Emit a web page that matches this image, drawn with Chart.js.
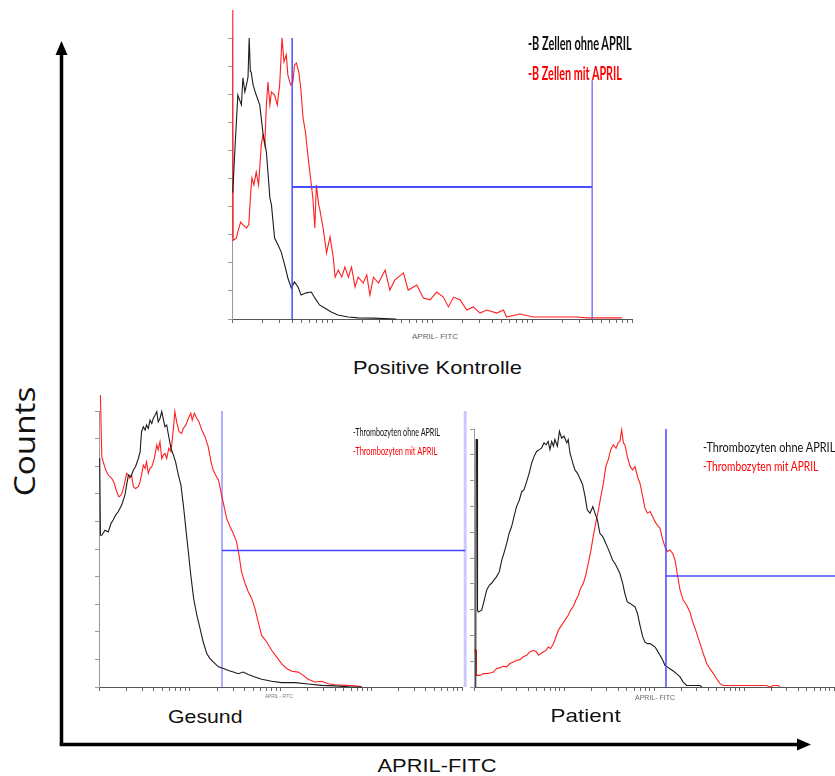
<!DOCTYPE html>
<html>
<head>
<meta charset="utf-8">
<title>APRIL-FITC Histogramme</title>
<script src="https://cdn.jsdelivr.net/npm/chart.js@4.4.1/dist/chart.umd.min.js"></script>
<style>
    body { margin: 0; width: 835px; height: 776px; position: relative; overflow: hidden; background: #fff; }
    canvas { position: absolute; }
    .label { position: absolute; white-space: nowrap; line-height: 1; }
</style>
</head>
<body>

<!-- outer axes with arrow heads -->
<svg width="835" height="776" style="position:absolute;left:0;top:0">
    <line x1="61.5" y1="52" x2="61.5" y2="746" stroke="#000" stroke-width="3.5"/>
    <polygon points="61.5,41 55.5,55 67.5,55" fill="#000"/>
    <line x1="59.8" y1="744.5" x2="800" y2="744.5" stroke="#000" stroke-width="3.5"/>
    <polygon points="811,744.5 797,738.5 797,750.5" fill="#000"/>
</svg>

<canvas id="kontrolle" width="420" height="330" style="left:220px;top:0px"></canvas>
<canvas id="gesund" width="385" height="310" style="left:88px;top:390px"></canvas>
<canvas id="patient" width="371" height="285" style="left:464px;top:415px"></canvas>

<script>
// Positive Kontrolle: B-Zellen (channel 0-1024 over 4 log decades, counts scaled to 100)
const kontrolleOhneKanal = [2, 8, 15, 24, 28, 33, 37, 41, 44, 47, 49, 54, 62, 71, 79, 88, 92, 97, 101, 109, 118, 126, 135, 143, 152, 160, 169, 177, 190, 203, 212, 224, 237, 254, 271, 297, 323, 360, 420];
const kontrolleOhneCounts = [45, 61.9, 79.7, 76.2, 85.8, 80.8, 83.3, 86.1, 100, 88, 87.9, 83.3, 79.7, 76.2, 66.5, 59.4, 52.3, 43.1, 40.6, 28.8, 26.3, 23.8, 19.2, 14.6, 11.0, 13.2, 11.4, 8.5, 9.3, 9.6, 7.5, 5.0, 3.9, 2.5, 1.4, 0.7, 0.4, 0.3, 0];

const kontrolleMitKanal = [1, 2, 3, 11, 15, 22, 28, 37, 43, 48, 51, 56, 62, 68, 75, 79, 84, 88, 92, 97, 101, 109, 116, 122, 128, 133, 139, 143, 150, 156, 160, 165, 171, 176, 182, 188, 195, 201, 207, 212, 216, 222, 225, 234, 242, 251, 259, 264, 272, 281, 289, 298, 306, 315, 323, 336, 345, 353, 362, 375, 392, 404, 417, 439, 451, 473, 490, 507, 524, 541, 554, 567, 584, 601, 618, 635, 652, 678, 695, 703, 737, 771, 823, 882, 908, 998];
const kontrolleMitCounts = [29, 110, 28, 28.8, 31.0, 34.5, 33.5, 32.4, 33.5, 45.2, 50.2, 47.7, 52.3, 47.7, 61.9, 65.5, 61.9, 76.2, 84.3, 76.2, 80.8, 79.7, 76.2, 83.3, 100, 91.5, 94.0, 86.8, 83.3, 84.3, 90.4, 91.1, 87.9, 82.2, 71.5, 66.5, 57.3, 50.2, 43.1, 32.4, 47.7, 40.6, 38.8, 31.7, 23.5, 29.2, 22.1, 14.9, 17.4, 14.9, 18.5, 14.9, 18.5, 11.4, 14.9, 12.8, 15.7, 8.5, 14.9, 12.8, 17.4, 10.3, 13.9, 16.4, 10.3, 12.1, 7.5, 6.8, 9.6, 7.8, 4.3, 7.8, 6.8, 3.2, 4.3, 2.1, 3.2, 2.1, 3.2, 0.7, 1.8, 0.7, 0.7, 0.7, 0.4, 0.4];

// Gesund: Thrombozyten
const gesundOhneKanal = [2, 4, 8, 17, 26, 34, 40, 47, 54, 64, 73, 78, 83, 90, 97, 103, 111, 116, 120, 125, 130, 134, 139, 144, 149, 153, 158, 163, 167, 172, 177, 181, 186, 191, 196, 203, 210, 216, 224, 231, 238, 245, 252, 259, 267, 276, 285, 294, 304, 313, 322, 337, 351, 365, 379, 393, 407, 421, 440, 459, 487, 515, 553, 590, 628, 666, 703, 741];
const gesundOhneCounts = [83, 55, 55, 56.8, 56.2, 59.3, 60.5, 62.3, 63.5, 65.9, 69.5, 73.2, 76.8, 76.2, 78.6, 79.8, 82.8, 85.2, 92.5, 94.3, 93.1, 94.9, 93.7, 96.7, 95.5, 97.3, 98.5, 99.8, 96.1, 97.3, 99.8, 97.3, 94.3, 94.9, 91.3, 86.5, 84.0, 81.6, 76.8, 73.2, 65.9, 57.4, 49.0, 40.5, 32.0, 26.0, 21.2, 16.3, 12.1, 10.3, 9.1, 7.3, 6.7, 6.0, 5.4, 4.8, 5.4, 4.5, 3.6, 2.8, 2.1, 1.6, 1.6, 1.1, 0.6, 0.4, 0.1, 0];

const gesundMitKanal = [4, 8, 12, 19, 26, 36, 43, 50, 56, 62, 66, 71, 78, 83, 87, 92, 97, 103, 111, 116, 120, 125, 130, 134, 139, 144, 149, 156, 163, 167, 172, 177, 181, 186, 191, 197, 203, 210, 214, 219, 226, 233, 238, 245, 252, 259, 263, 269, 276, 282, 290, 299, 308, 316, 322, 329, 337, 344, 351, 360, 370, 379, 388, 395, 402, 412, 421, 431, 440, 449, 459, 473, 487, 501, 515, 529, 544, 562, 576, 590, 609, 628, 647, 666, 694, 722, 741];
const gesundMitCounts = [105.8, 83.4, 81.6, 78.6, 76.8, 75.6, 73.8, 70.7, 68.9, 69.5, 70.7, 73.2, 77.4, 76.8, 75.6, 76.8, 72.6, 71.9, 72.6, 74.4, 76.8, 80.4, 79.2, 81.6, 77.4, 79.2, 79.8, 82.8, 87.7, 85.9, 88.9, 82.8, 84.0, 84.6, 82.8, 86.5, 85.2, 93.7, 99.8, 96.1, 92.5, 91.9, 93.7, 94.9, 97.3, 99.2, 96.7, 99.2, 97.3, 96.1, 93.1, 90.7, 87.1, 81.6, 78.6, 76.8, 75.0, 70.7, 66.5, 61.1, 58.0, 55.6, 52.6, 47.8, 41.7, 37.5, 34.5, 32.0, 28.4, 23.6, 18.7, 16.3, 13.3, 10.9, 8.5, 6.7, 5.7, 5.4, 4.2, 2.8, 1.8, 2.1, 1.2, 0.8, 0.6, 0.4, 0.2];

// Patient: Thrombozyten
const patientOhneKanal = [5, 6, 9, 10, 12, 22, 28, 36, 44, 50, 57, 64, 72, 79, 85, 93, 100, 107, 114, 121, 129, 136, 142, 150, 157, 164, 171, 178, 186, 192, 199, 205, 211, 216, 221, 226, 230, 237, 243, 249, 256, 264, 268, 273, 281, 287, 294, 301, 309, 316, 322, 330, 338, 344, 351, 358, 366, 373, 379, 387, 394, 401, 408, 415, 423, 429, 436, 444, 451, 458, 465, 472, 480, 486, 493, 501, 508, 515, 521, 529, 537, 543, 550, 557, 567, 576, 586, 595, 605, 624, 643, 648];
const patientOhneCounts = [0, 95.9, 95.9, 29.8, 29.1, 29.8, 33.0, 37.6, 39.5, 40.2, 41.5, 42.7, 44.7, 49.2, 51.8, 55.7, 59.6, 62.2, 66.1, 69.9, 72.5, 75.8, 76.4, 79.7, 82.9, 86.8, 89.4, 91.3, 92.0, 92.6, 94.6, 93.9, 95.2, 92.0, 95.2, 93.3, 95.9, 93.3, 99.1, 96.5, 97.2, 94.6, 95.9, 90.7, 86.8, 84.2, 82.9, 80.9, 78.4, 73.8, 68.7, 67.4, 69.9, 67.4, 64.8, 59.6, 58.3, 56.3, 54.4, 51.8, 49.2, 47.9, 46.0, 44.0, 40.2, 36.3, 33.0, 32.4, 31.7, 31.1, 28.5, 24.0, 19.4, 17.5, 16.8, 16.8, 16.2, 15.5, 14.2, 12.3, 10.4, 8.4, 7.8, 7.1, 6.2, 5.2, 3.9, 1.9, 0.6, 0.6, 0.6, 0];

const patientMitKanal = [0, 6, 7, 17, 27, 36, 46, 55, 64, 74, 83, 93, 102, 112, 121, 131, 140, 150, 159, 169, 178, 183, 190, 197, 205, 211, 218, 226, 233, 240, 246, 254, 262, 268, 275, 282, 290, 297, 303, 311, 318, 325, 332, 339, 347, 354, 360, 368, 375, 382, 389, 396, 404, 410, 415, 420, 425, 429, 436, 444, 451, 458, 465, 472, 480, 486, 493, 501, 508, 515, 521, 529, 537, 543, 550, 557, 565, 572, 578, 586, 595, 605, 614, 622, 629, 635, 643, 652, 662, 671, 681, 690, 700, 709, 747, 794, 832, 842, 851, 866, 870];
const patientMitCounts = [14.2, 14.2, 4.5, 4.5, 5.2, 5.2, 5.4, 5.8, 7.1, 7.5, 8.0, 7.8, 9.1, 9.7, 10.4, 10.6, 11.7, 12.3, 13.6, 14.2, 13.6, 12.3, 13.0, 13.6, 14.2, 15.5, 14.9, 16.8, 19.4, 22.0, 23.3, 24.9, 26.6, 27.8, 29.8, 31.1, 33.7, 35.6, 38.2, 40.2, 43.4, 47.9, 52.5, 58.3, 64.1, 68.7, 73.2, 79.0, 85.5, 88.1, 92.0, 93.9, 92.6, 94.6, 95.2, 99.7, 94.6, 93.9, 89.4, 85.5, 84.2, 85.5, 81.6, 79.0, 73.8, 69.4, 67.4, 68.0, 66.1, 64.1, 62.8, 61.5, 57.0, 54.4, 52.5, 53.1, 51.8, 49.2, 44.0, 37.6, 33.7, 31.7, 29.1, 25.3, 22.7, 20.1, 16.8, 13.0, 9.1, 7.1, 5.2, 3.2, 1.3, 0.6, 0.6, 0.6, 0.6, 0, 0.6, 0.6, 0];

// marker gates: channel of the vertical bars, count level of the horizontal bar
const kontrolleGateKanal = [154, 922];
const kontrolleGateCount = 47;
const gesundGateKanal = [347, 1033];
const gesundGateCount = 49.5;
const patientGateKanal = [546, 1030];
const patientGateCount = 43;

// log axis: minor ticks 1..9 in each of the 4 decades
const logTicks = [];
for (let d = 0; d < 4; d++) {
    for (let k = 1; k < 10; k++) logTicks.push(256 * (d + Math.log10(k)));
}
logTicks.push(1024);

const black = '#1c1c1c';
const red = '#ff1f1f';

function curve(kanal, counts, color) {
    return {
        data: kanal.map((x, i) => ({ x: x, y: counts[i] })),
        borderColor: color,
        borderWidth: 1.1,
        pointRadius: 0,
        clip: false
    };
}

function segment(x1, y1, x2, y2, color, width) {
    return {
        data: [{ x: x1, y: y1 }, { x: x2, y: y2 }],
        borderColor: color,
        borderWidth: width,
        pointRadius: 0,
        clip: false
    };
}

function histogram(id, padding, datasets) {
    return new Chart(document.getElementById(id), {
        type: 'line',
        data: { datasets: datasets },
        options: {
            responsive: false,
            animation: false,
            events: [],
            layout: { padding: padding },
            plugins: { legend: { display: false }, tooltip: { enabled: false } },
            scales: {
                x: {
                    type: 'linear',
                    min: 0,
                    max: 1024,
                    afterBuildTicks: scale => { scale.ticks = logTicks.map(v => ({ value: v })); },
                    ticks: { display: false },
                    grid: { drawOnChartArea: false, tickLength: 4, color: '#6a6a6a' },
                    border: { color: '#555' }
                },
                y: {
                    min: 0,
                    max: 100,
                    ticks: { display: false, stepSize: 10 },
                    grid: { drawOnChartArea: false, tickLength: 4, color: '#999' },
                    border: { color: '#9a9a9a' }
                }
            }
        }
    });
}

histogram('kontrolle', { left: 8, top: 38, right: 8, bottom: 7 }, [
    segment(kontrolleGateKanal[0], 0, kontrolleGateKanal[0], 100, '#4b4bff', 1.5),
    segment(kontrolleGateKanal[1], 0, kontrolleGateKanal[1], 85, '#6666ff', 1.3),
    segment(kontrolleGateKanal[0], kontrolleGateCount, kontrolleGateKanal[1], kontrolleGateCount, '#4b4bff', 2),
    curve(kontrolleOhneKanal, kontrolleOhneCounts, black),
    curve(kontrolleMitKanal, kontrolleMitCounts, red)
]);

histogram('gesund', { left: 7, top: 21, right: 11, bottom: 9 }, [
    segment(gesundGateKanal[0], gesundGateCount, gesundGateKanal[1], gesundGateCount, '#4444ff', 1.5),
    curve(gesundOhneKanal, gesundOhneCounts, black),
    curve(gesundMitKanal, gesundMitCounts, red),
    segment(gesundGateKanal[0], 0, gesundGateKanal[0], 100, 'rgba(120,120,255,0.6)', 2),
    segment(gesundGateKanal[1], 0, gesundGateKanal[1], 100, 'rgba(150,150,255,0.5)', 3)
]);

histogram('patient', { left: 6, top: 14, right: 1, bottom: 9 }, [
    segment(patientGateKanal[0], 0, patientGateKanal[0], 100, '#4747ff', 1.5),
    segment(patientGateKanal[0], patientGateCount, patientGateKanal[1], patientGateCount, '#4747ff', 1.5),
    curve(patientOhneKanal, patientOhneCounts, black),
    curve(patientMitKanal, patientMitCounts, red)
]);

// text labels, squeezed horizontally to their drawn width
function label(text, o) {
    const el = document.createElement('div');
    el.className = 'label';
    el.textContent = text;
    el.style.font = o.font;
    el.style.color = o.color || '#111';
    document.body.appendChild(el);
    const w = el.offsetWidth, h = el.offsetHeight;
    const k = o.width / w;
    el.style.top = (o.y - h / 2) + 'px';
    if (o.rotate) {
        el.style.left = (o.x - w / 2) + 'px';
        el.style.transform = 'rotate(-90deg) scaleX(' + k + ')';
    } else if (o.align === 'left') {
        el.style.left = o.x + 'px';
        el.style.transformOrigin = '0 50%';
        el.style.transform = 'scaleX(' + k + ')';
    } else {
        el.style.left = (o.x - w / 2) + 'px';
        el.style.transform = 'scaleX(' + k + ')';
    }
}

const sans = '"Liberation Sans", Arial, sans-serif';
const legendFont = 'Lato, "Open Sans", sans-serif';

label('Counts', { x: 23, y: 441, width: 110, font: '30px "Open Sans", sans-serif', rotate: true });
label('APRIL-FITC', { x: 437, y: 766, width: 119, font: '18px ' + sans });
label('Positive Kontrolle', { x: 437, y: 368, width: 169, font: '19px ' + sans });
label('Gesund', { x: 205, y: 717, width: 75, font: '19px ' + sans });
label('Patient', { x: 585, y: 716, width: 70, font: '19px ' + sans });

label('-B Zellen ohne APRIL', { x: 528, y: 42, width: 104, font: 'bold 19px ' + legendFont, align: 'left' });
label('-B Zellen mit APRIL', { x: 528, y: 72, width: 94, font: 'bold 19px ' + legendFont, color: '#ff0000', align: 'left' });
label('-Thrombozyten ohne APRIL', { x: 353, y: 431, width: 87, font: '11px ' + legendFont, align: 'left' });
label('-Thrombozyten mit APRIL', { x: 353, y: 450, width: 84, font: '11px ' + legendFont, color: '#ff0000', align: 'left' });
label('-Thrombozyten ohne APRIL', { x: 703, y: 446, width: 132, font: '14px ' + legendFont, align: 'left' });
label('-Thrombozyten mit APRIL', { x: 703, y: 465, width: 115, font: '14px ' + legendFont, color: '#ff0000', align: 'left' });

label('APRIL- FITC', { x: 435, y: 336, width: 46, font: '7px ' + sans, color: '#666' });
label('APRIL - FITC', { x: 279, y: 696, width: 28, font: '6px ' + sans, color: '#777' });
label('APRIL- FITC', { x: 655, y: 697, width: 40, font: '7px ' + sans, color: '#666' });
</script>
</body>
</html>
